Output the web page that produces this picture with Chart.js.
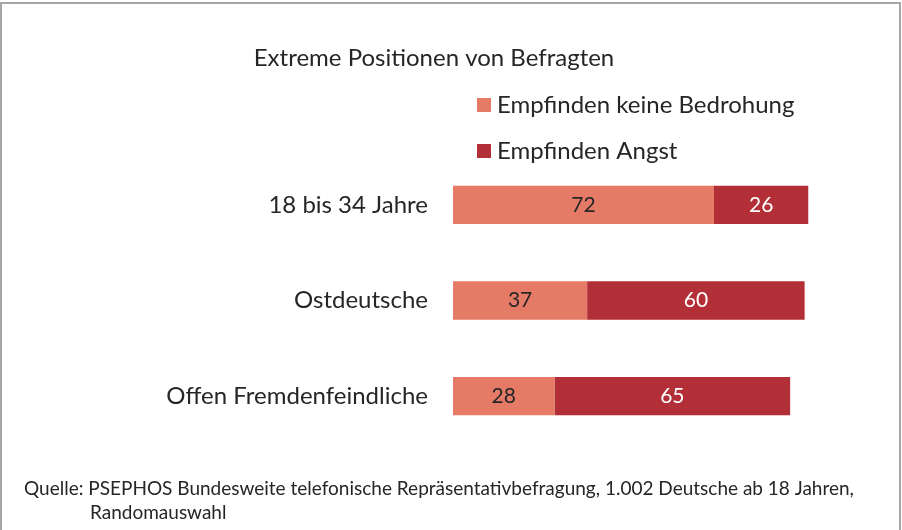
<!DOCTYPE html>
<html>
<head>
<meta charset="utf-8">
<script src="https://cdn.jsdelivr.net/npm/chart.js@4/dist/chart.umd.min.js"></script>
<style>
  body { margin: 0; background: #fff; }
</style>
</head>
<body>
<canvas id="chart" width="902" height="530"></canvas>
<script>
const categories = ['18 bis 34 Jahre', 'Ostdeutsche', 'Offen Fremdenfeindliche']
const keineBedrohung = [72, 37, 28]
const angst = [26, 60, 65]
const seriesNames = ['Empfinden keine Bedrohung', 'Empfinden Angst']
const titleText = 'Extreme Positionen von Befragten'
const sourceLines = [
  'Quelle: PSEPHOS Bundesweite telefonische Repräsentativbefragung, 1.002 Deutsche ab 18 Jahren,',
  'Randomauswahl'
]

const FONT = 'Lato, "Open Sans", sans-serif'

// title, legend, value labels, source note and frame
const decorations = {
  id: 'decorations',
  afterDatasetsDraw(chart) {
    const ctx = chart.ctx
    ctx.save()

    // value labels inside the bars
    chart.data.datasets.forEach((ds, i) => {
      const meta = chart.getDatasetMeta(i)
      meta.data.forEach((bar, j) => {
        ctx.fillStyle = i === 0 ? '#262626' : '#ffffff'
        ctx.font = '21px ' + FONT
        ctx.textAlign = 'center'
        ctx.textBaseline = 'middle'
        ctx.fillText(ds.data[j], (bar.x + bar.base) / 2, bar.y)
      })
    })

    // title
    ctx.fillStyle = '#262626'
    ctx.font = '24px ' + FONT
    ctx.textAlign = 'center'
    ctx.textBaseline = 'middle'
    ctx.fillText(titleText, 434, 58)

    // legend
    chart.data.datasets.forEach((ds, i) => {
      const y = 105 + i * 46
      ctx.fillStyle = ds.backgroundColor
      ctx.fillRect(477, y - 7, 14, 14)
      ctx.fillStyle = '#262626'
      ctx.textAlign = 'left'
      ctx.fillText(ds.label, 497, y)
    })

    // source
    ctx.font = '19px ' + FONT
    ctx.fillText(sourceLines[0], 24, 489)
    ctx.fillText(sourceLines[1], 90, 513)

    // frame
    ctx.strokeStyle = '#a6a6a6'
    ctx.lineWidth = 2
    ctx.strokeRect(1, 3, 899, 560)
    ctx.restore()
  }
}

new Chart(document.getElementById('chart'), {
  type: 'bar',
  data: {
    labels: categories,
    datasets: [
      { label: seriesNames[0], data: keineBedrohung, backgroundColor: '#E57A66' },
      { label: seriesNames[1], data: angst, backgroundColor: '#B22F37' }
    ]
  },
  options: {
    indexAxis: 'y',
    responsive: false,
    animation: false,
    layout: { padding: { top: 157, bottom: 86, right: 86.5, left: 0 } },
    datasets: { bar: { barPercentage: 0.4, categoryPercentage: 1 } },
    plugins: {
      legend: { display: false },
      title: { display: false },
      tooltip: { enabled: false }
    },
    scales: {
      x: { stacked: true, min: 0, max: 100, display: false },
      y: {
        stacked: true,
        grid: { display: false },
        border: { display: false },
        ticks: { color: '#262626', font: { size: 24, family: FONT }, padding: 17 },
        afterFit(scale) { scale.width = 453 }
      }
    }
  },
  plugins: [decorations]
})
</script>
</body>
</html>
